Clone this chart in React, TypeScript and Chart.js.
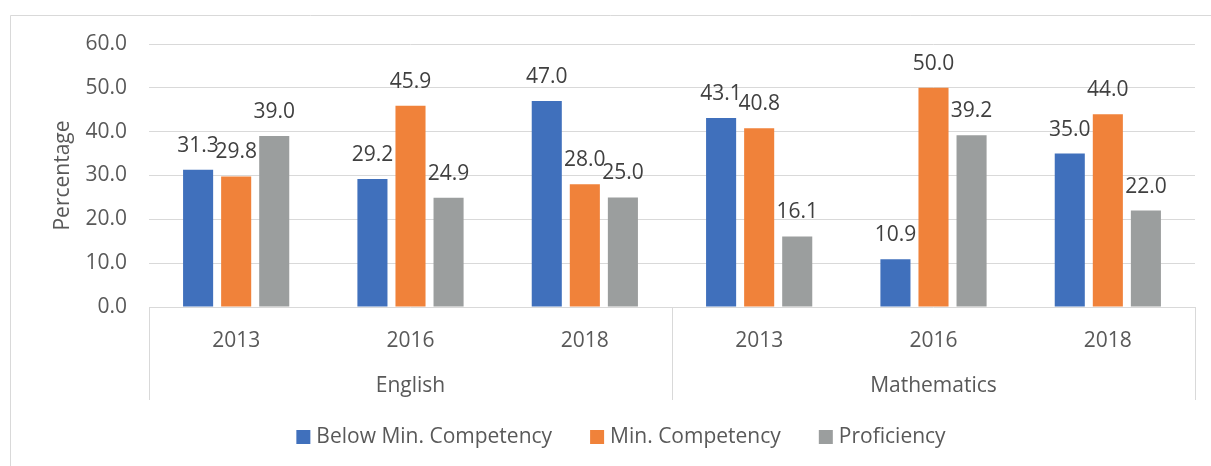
import React, { useEffect, useRef } from 'react';
import { Chart, registerables } from 'chart.js';

Chart.register(...registerables);

const years = ['2013', '2016', '2018', '2013', '2016', '2018'];
const subjects = ['English', 'Mathematics'];
const yearsPerSubject = 3;
const seriesNames = ['Below Min. Competency', 'Min. Competency', 'Proficiency'];
const belowMin = [31.3, 29.2, 47.0, 43.1, 10.9, 35.0];
const minComp = [29.8, 45.9, 28.0, 40.8, 50.0, 44.0];
const proficiency = [39.0, 24.9, 25.0, 16.1, 39.2, 22.0];
const seriesColors = ['#4070BC', '#F0823A', '#9B9E9E'];
const yMin = 0;
const yMax = 60;
const yStep = 10;

const FONT = "'Open Sans', 'Noto Sans', sans-serif";
const FS = 21;
const TEXT = '#595959';
const LABEL = '#404040';
const GRID = '#D9D9D9';
const LEGEND_CENTER_X = 621;
const LEGEND_Y = 437;

const decor = {
  id: 'decor',
  beforeDraw(chart: any) {
    const ctx = chart.ctx;
    ctx.save();
    ctx.fillStyle = '#ffffff';
    ctx.fillRect(0, 0, chart.width, chart.height);
    ctx.strokeStyle = GRID;
    ctx.lineWidth = 1;
    ctx.beginPath();
    ctx.moveTo(10.5, chart.height);
    ctx.lineTo(10.5, 15.5);
    ctx.lineTo(chart.width, 15.5);
    ctx.stroke();
    ctx.restore();
  },
  afterDatasetsDraw(chart: any) {
    const ctx = chart.ctx;
    ctx.save();
    ctx.font = `${FS}px ${FONT}`;
    ctx.fillStyle = LABEL;
    ctx.textAlign = 'center';
    ctx.textBaseline = 'middle';
    chart.data.datasets.forEach((ds: any, i: number) => {
      const meta = chart.getDatasetMeta(i);
      meta.data.forEach((bar: any, j: number) => {
        const v = ds.data[j];
        ctx.fillText(Number(v).toFixed(1), bar.x, bar.y - 24);
      });
    });
    ctx.restore();
  },
  afterDraw(chart: any) {
    const ctx = chart.ctx;
    const xs = chart.scales.x;
    const area = chart.chartArea;
    const w = (xs.right - xs.left) / years.length;
    ctx.save();
    ctx.strokeStyle = GRID;
    ctx.lineWidth = 1;
    const lineBottom = area.bottom + 93;
    for (let k = 0; k <= years.length; k += yearsPerSubject) {
      const x = Math.round(xs.left + k * w) + 0.5;
      ctx.beginPath();
      ctx.moveTo(x, area.bottom);
      ctx.lineTo(x, lineBottom);
      ctx.stroke();
    }
    ctx.font = `${FS}px ${FONT}`;
    ctx.fillStyle = TEXT;
    ctx.textAlign = 'center';
    ctx.textBaseline = 'middle';
    subjects.forEach((s, g) => {
      const cx = xs.left + (g * yearsPerSubject + yearsPerSubject / 2) * w;
      ctx.fillText(s, cx, area.bottom + 79);
    });
    // legend
    const box = 14;
    const gapBox = 6;
    const gapItem = 38;
    const widths = seriesNames.map((n) => ctx.measureText(n).width);
    const total = widths.reduce((a, b) => a + b, 0) + seriesNames.length * (box + gapBox) + (seriesNames.length - 1) * gapItem;
    let x = LEGEND_CENTER_X - total / 2;
    ctx.textAlign = 'left';
    seriesNames.forEach((n, i) => {
      ctx.fillStyle = seriesColors[i];
      ctx.fillRect(x, LEGEND_Y - box / 2, box, box);
      ctx.fillStyle = TEXT;
      ctx.fillText(n, x + box + gapBox, LEGEND_Y);
      x += box + gapBox + widths[i] + gapItem;
    });
    ctx.restore();
  },
};

export default function App() {
  const ref = useRef<HTMLCanvasElement | null>(null);
  useEffect(() => {
    if (!ref.current) return;
    const chart = new Chart(ref.current, {
      type: 'bar',
      data: {
        labels: years,
        datasets: [belowMin, minComp, proficiency].map((d, i) => ({
          label: seriesNames[i],
          data: d,
          backgroundColor: seriesColors[i],
          borderWidth: 0,
          categoryPercentage: 0.655,
          barPercentage: 0.79,
        })),
      },
      options: {
        responsive: false,
        animation: false,
        devicePixelRatio: 1,
        layout: { padding: { left: 10, right: 16, top: 44, bottom: 59 } },
        plugins: {
          legend: { display: false },
          tooltip: { enabled: false },
        },
        scales: {
          x: {
            grid: { display: false, drawTicks: false },
            border: { display: false },
            ticks: {
              color: TEXT,
              font: { family: FONT, size: FS },
              padding: 21,
              maxRotation: 0,
              autoSkip: false,
            },
            afterFit: (s: any) => {
              s.height = 100;
            },
          },
          y: {
            min: yMin,
            max: yMax,
            grid: { color: GRID, lineWidth: 1, drawTicks: false },
            border: { display: false },
            ticks: {
              stepSize: yStep,
              color: TEXT,
              font: { family: FONT, size: FS },
              padding: 22,
              callback: (v: any) => Number(v).toFixed(1),
            },
            title: {
              display: true,
              text: 'Percentage',
              color: TEXT,
              font: { family: FONT, size: FS },
              padding: { top: 40, bottom: 0 },
            },
            afterFit: (s: any) => {
              s.width = 139;
            },
          },
        },
      },
      plugins: [decor],
    });
    return () => chart.destroy();
  }, []);
  return (
    <div style={{ position: 'fixed', left: 0, top: 0, width: 1211, height: 466, background: '#fff' }}>
      <canvas ref={ref} width={1211} height={466} />
    </div>
  );
}
